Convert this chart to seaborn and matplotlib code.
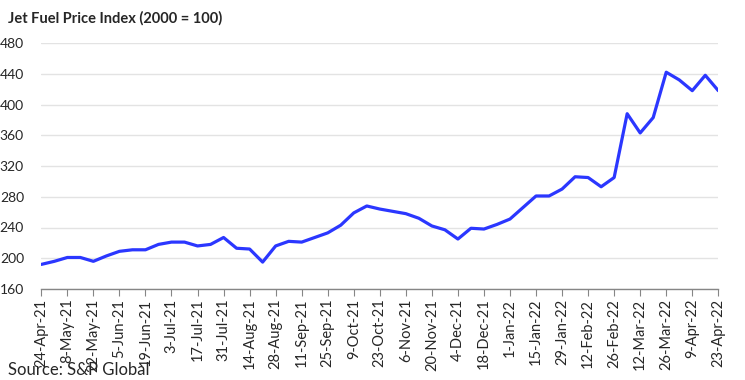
import pandas as pd
import matplotlib
matplotlib.use('Agg')
import matplotlib.pyplot as plt
import seaborn as sns

# Weekly jet fuel price index (2000 = 100)
weeks = pd.date_range('2021-04-24', periods=53, freq='7D')
index_values = [192, 196, 201, 201, 196, 203, 209, 211, 211, 218,
                221, 221, 216, 218, 227, 213, 212, 195, 216, 222,
                221, 227, 233, 243, 259, 268, 264, 261, 258, 252,
                242, 237, 225, 239, 238, 244, 251, 266, 281, 281,
                290, 306, 305, 293, 305, 388, 363, 383, 442, 432,
                418, 438, 418]
y_ticks = [160, 200, 240, 280, 320, 360, 400, 440, 480]

df = pd.DataFrame({'week': range(len(weeks)), 'index': index_values})
tick_pos = list(range(0, len(weeks), 2))
tick_labels = [f"{weeks[i].day}-{weeks[i]:%b-%y}" for i in tick_pos]

sns.set_style('white')
plt.rcParams['font.family'] = ['Lato', 'DejaVu Sans']

fig = plt.figure(figsize=(7.45, 3.8), dpi=100)
ax = fig.add_axes([41.3 / 745, 1 - 289 / 380, 677 / 745, 246 / 380])

sns.lineplot(x='week', y='index', data=df, ax=ax, color='#2B37FF', linewidth=2.3)

ax.set_xlim(0, len(weeks) - 1)
ax.set_ylim(160, 480)
ax.set_yticks(y_ticks)
ax.set_yticklabels([str(v) for v in y_ticks], fontsize=10)
ax.set_xticks(tick_pos)
ax.set_xticklabels(tick_labels, rotation=90, fontsize=10.5)
ax.set_xlabel('')
ax.set_ylabel('')

ax.grid(axis='y', color='#e3e3e3', linewidth=1)
ax.set_axisbelow(True)
for side in ['left', 'top', 'right']:
    ax.spines[side].set_visible(False)
ax.spines['bottom'].set_color('#868686')
ax.spines['bottom'].set_linewidth(1)
ax.tick_params(axis='x', bottom=True, length=5, color='#868686', pad=2)
ax.tick_params(axis='y', left=False, pad=9)

fig.text(8 / 745, 1 - 18 / 380, 'Jet Fuel Price Index (2000 = 100)',
         fontsize=10.5, fontweight='bold', va='center', ha='left')
fig.text(8 / 745, 5 / 380, 'Source: S&P Global', fontsize=12,
         va='baseline', ha='left')

fig.savefig('out.png', dpi=100)
plt.close(fig)
